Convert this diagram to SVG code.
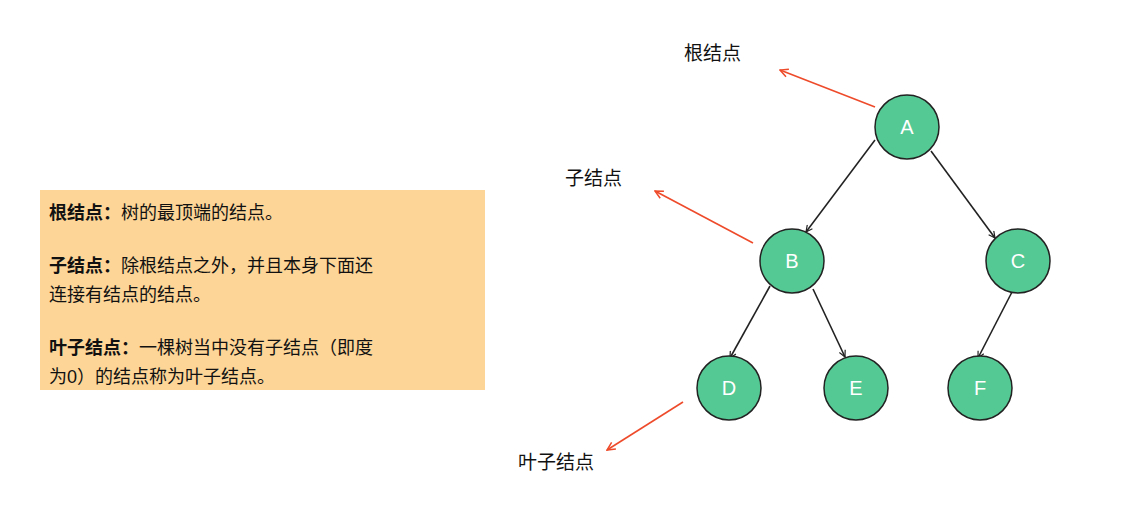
<svg xmlns="http://www.w3.org/2000/svg" width="1134" height="531" viewBox="0 0 1134 531">
<style>
text{font-family:"Liberation Sans","Noto Sans CJK SC",sans-serif}
.n circle{fill:#55c994;stroke:#222;stroke-width:1.5}
.n text{fill:#fff;font-size:20px;text-anchor:middle;dominant-baseline:central}
.e{stroke:#222;stroke-width:1.6;fill:none;marker-end:url(#ab)}
.r{stroke:#ee4b2b;stroke-width:1.6;fill:none;marker-end:url(#ar)}
.lbl{font-size:19px;fill:#111}
.bt{font-size:18px;fill:#111}
</style>
<defs>
<marker id="ab" viewBox="0 0 10 10" refX="9" refY="5" markerWidth="8" markerHeight="8" orient="auto" markerUnits="userSpaceOnUse"><path d="M1,1L9,5L1,9" fill="none" stroke="#222" stroke-width="1.5"/></marker>
<marker id="ar" viewBox="0 0 10 10" refX="9" refY="5" markerWidth="10" markerHeight="10" orient="auto" markerUnits="userSpaceOnUse"><path d="M1,1L9,5L1,9" fill="none" stroke="#ee4b2b" stroke-width="1.5"/></marker>
</defs>
<rect width="1134" height="531" fill="#fff"/>
<g id="infobox">
<rect x="40" y="190" width="445" height="200" fill="#fdd597"/>
<text class="bt" x="49" y="219"><tspan font-weight="bold">根结点：</tspan>树的最顶端的结点。</text>
<text class="bt" x="49" y="272"><tspan font-weight="bold">子结点：</tspan>除根结点之外，并且本身下面还</text>
<text class="bt" x="49" y="301">连接有结点的结点。</text>
<text class="bt" x="49" y="354"><tspan font-weight="bold">叶子结点：</tspan>一棵树当中没有子结点（即度</text>
<text class="bt" x="49" y="383">为0）的结点称为叶子结点。</text>
</g>
<g id="connectors">
<line class="e" x1="875" y1="140" x2="806" y2="232"/>
<line class="e" x1="931" y1="151" x2="995" y2="238"/>
<line class="e" x1="770" y1="286" x2="730" y2="358"/>
<line class="e" x1="813" y1="289" x2="845" y2="357"/>
<line class="e" x1="1012" y1="292" x2="978" y2="358"/>
<line class="r" x1="875" y1="107" x2="780" y2="70"/>
<line class="r" x1="753" y1="243" x2="655" y2="191"/>
<line class="r" x1="683" y1="402" x2="607" y2="450"/>
</g>
<g id="label-root"><text class="lbl" x="684" y="60">根结点</text></g>
<g id="label-child"><text class="lbl" x="565" y="185">子结点</text></g>
<g id="label-leaf"><text class="lbl" x="518" y="469">叶子结点</text></g>
<g id="A" class="n"><circle cx="907" cy="127" r="32"/><text x="907" y="127">A</text></g>
<g id="B" class="n"><circle cx="792" cy="261" r="32"/><text x="792" y="261">B</text></g>
<g id="C" class="n"><circle cx="1018" cy="261" r="32"/><text x="1018" y="261">C</text></g>
<g id="D" class="n"><circle cx="729" cy="388" r="32"/><text x="729" y="388">D</text></g>
<g id="E" class="n"><circle cx="856" cy="388" r="32"/><text x="856" y="388">E</text></g>
<g id="F" class="n"><circle cx="980" cy="388" r="32"/><text x="980" y="388">F</text></g>
</svg>
